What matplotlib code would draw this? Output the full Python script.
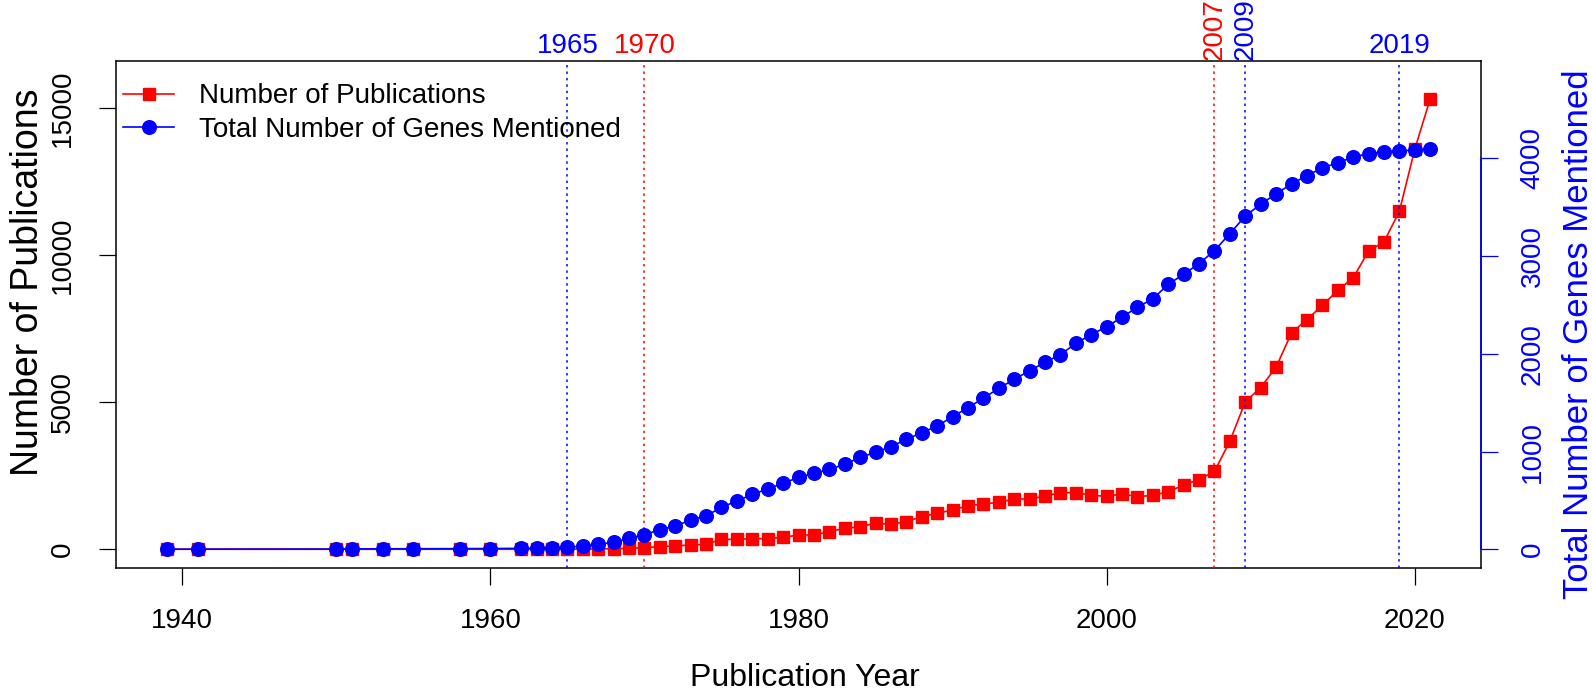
import matplotlib
matplotlib.use("Agg")
import matplotlib.pyplot as plt

plt.rcParams["font.family"] = ["Liberation Sans", "DejaVu Sans"]

# Data
years = [1939, 1941, 1950, 1951, 1953, 1955, 1958, 1960] + list(range(1962, 2022))

publications = [
    1, 1, 1, 1, 1, 1, 1, 2,                       # 1939-1960
    2, 3, 3, 5, 8, 12, 20, 34, 57,                # 1962-1970
    91, 113, 147, 170, 340, 340, 363, 363, 408, 486,          # 1971-1980
    486, 600, 714, 770, 884, 850, 940, 1110, 1224, 1337,      # 1981-1990
    1484, 1541, 1598, 1711, 1711, 1813, 1926, 1926, 1840, 1799,  # 1991-2000
    1884, 1790, 1834, 1956, 2187, 2371, 2650, 3680, 5017, 5503,  # 2001-2010
    6197, 7361, 7813, 8296, 8806, 9231, 10143, 10459, 11493, 13605,  # 2011-2020
    15320,                                                    # 2021
]

genes_total = [
    1, 2, 3, 4, 5, 6, 7, 8,                       # 1939-1960
    10, 12, 15, 20, 34, 51, 72, 112, 150,         # 1962-1970
    200, 238, 300, 341, 430, 494, 562, 617, 675, 736,         # 1971-1980
    777, 818, 869, 941, 992, 1050, 1125, 1193, 1261, 1357,    # 1981-1990
    1449, 1545, 1647, 1739, 1827, 1913, 1992, 2106, 2197, 2276,  # 1991-2000
    2375, 2477, 2562, 2711, 2813, 2923, 3055, 3230, 3409, 3530,  # 2001-2010
    3636, 3738, 3822, 3902, 3953, 4012, 4048, 4066, 4074, 4085,  # 2011-2020
    4092,                                                     # 2021
]

pub_marks = [1970, 2007]
gene_marks = [1965, 2009, 2019]
vertical_marks = [2007, 2009]

x_ticks = [1940, 1960, 1980, 2000, 2020]
left_ticks = [0, 5000, 10000, 15000]
right_ticks = [0, 1000, 2000, 3000, 4000]

RED = "#FF0000"
BLUE = "#0000FF"
FS = 20

W, H = 1592, 694
fig = plt.figure(figsize=(W / 100, H / 100), dpi=100)
ax = fig.add_axes([116 / W, (H - 568) / H, (1480.7 - 116) / W, (568 - 61) / H])
ax2 = ax.twinx()

ax.set_xlim(1935.70, 2024.28)
ax.set_ylim(-636, 16609)
ax2.set_ylim(-191, 4995)

l1, = ax.plot(years, publications, color=RED, lw=1.2, marker="s", ms=8.6,
              label="Number of Publications", zorder=3)
l2, = ax2.plot(years, genes_total, color=BLUE, lw=1.2, marker="o", ms=9.8,
               label="Total Number of Genes Mentioned", zorder=3)

for yr in pub_marks + gene_marks:
    col = RED if yr in pub_marks else BLUE
    ax2.axvline(yr, color=col, lw=1.1, ls=(0, (1.6, 2.6)), zorder=2)
    if yr in vertical_marks:
        ax.annotate(str(yr), xy=(yr, 1), xycoords=("data", "axes fraction"),
                    xytext=(0, 0.5), textcoords="offset points", rotation=90,
                    ha="center", va="bottom", color=col, fontsize=FS)
    else:
        ax.annotate(str(yr), xy=(yr, 1), xycoords=("data", "axes fraction"),
                    xytext=(0, 5.5), textcoords="offset points",
                    ha="center", va="baseline", color=col, fontsize=FS)

# frame and axes
for s in ax.spines.values():
    s.set_linewidth(1.1)
    s.set_color("black")
for s in ["top", "bottom", "left"]:
    ax2.spines[s].set_visible(False)
ax2.spines["right"].set_color(BLUE)
ax2.spines["right"].set_linewidth(1.1)
ax2.spines["right"].set_bounds(0, 4000)

ax.set_xticks(x_ticks)
ax.set_yticks(left_ticks)
ax2.set_yticks(right_ticks)
ax.tick_params(axis="both", direction="out", length=12.2, width=0.9,
               pad=16.5, labelsize=FS)
ax2.tick_params(axis="y", direction="out", length=12.2, width=0.9,
                pad=16, labelsize=FS, colors=BLUE)
for t in ax.get_yticklabels():
    t.set_rotation(90)
    t.set_va("center")
for t in ax2.get_yticklabels():
    t.set_rotation(90)
    t.set_va("center")

fig.text(805 / W, 1 - 678 / H, "Publication Year", ha="center", va="center", fontsize=23)
fig.text(28 / W, 1 - 282 / H, "Number of Publications", rotation=90, ha="center",
         va="center", fontsize=27)
fig.text(1578 / W, 1 - 334 / H, "Total Number of Genes Mentioned", rotation=90,
         ha="center", va="center", fontsize=25, color=BLUE)

ax2.legend(handles=[l1, l2], loc="upper left", bbox_to_anchor=(-0.002, 0.975),
           frameon=False, fontsize=FS, borderaxespad=0, borderpad=0.35,
           handlelength=1.85, handletextpad=0.9, labelspacing=0.27)

fig.savefig("out.png", dpi=100)
